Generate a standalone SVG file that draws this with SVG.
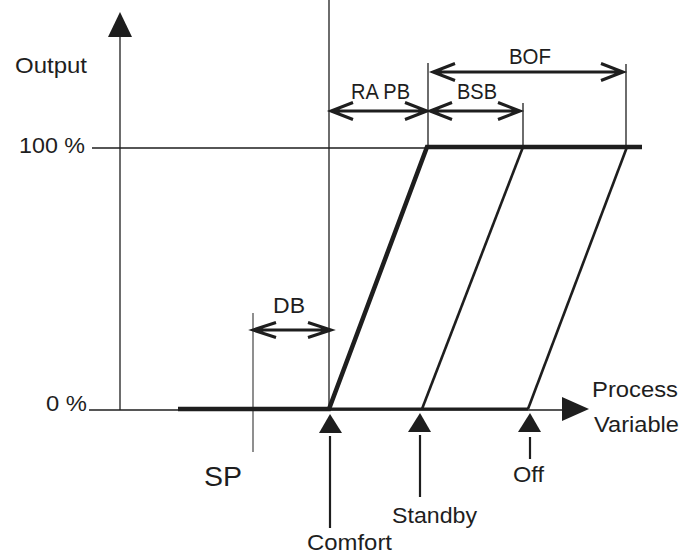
<svg xmlns="http://www.w3.org/2000/svg" width="696" height="554" viewBox="0 0 696 554">
<style>
  text { font-family: "Liberation Sans", Arial, sans-serif; font-size: 22px; fill: #1e1e1e; }
  .thin { stroke: #1e1e1e; stroke-width: 1.3; fill: none; }
  .gray { stroke: #6a6a6a; stroke-width: 1.5; fill: none; }
  .dim { stroke: #1e1e1e; stroke-width: 3; fill: none; stroke-linejoin: miter; }
  .curve { stroke: #1e1e1e; fill: none; stroke-linejoin: miter; }
  .tri { fill: #1e1e1e; }
  .stem { stroke: #1e1e1e; stroke-width: 2.2; }
</style>
<rect width="696" height="554" fill="#ffffff"/>

<g id="axes">
  <line class="thin" x1="120" y1="34" x2="120" y2="410"/>
  <polygon class="tri" points="120,12 108,37 132,37"/>
  <line class="thin" x1="89" y1="410" x2="566" y2="410"/>
  <polygon class="tri" points="589,409 562,397 562,421"/>
  <line class="thin" x1="92" y1="148" x2="428" y2="148"/>
  <text x="15" y="73" textLength="72" lengthAdjust="spacingAndGlyphs">Output</text>
  <text x="19" y="153" textLength="66" lengthAdjust="spacingAndGlyphs">100 %</text>
  <text x="46" y="411" textLength="41" lengthAdjust="spacingAndGlyphs">0 %</text>
  <text x="592" y="397" textLength="86" lengthAdjust="spacingAndGlyphs">Process</text>
  <text x="594" y="432" textLength="85" lengthAdjust="spacingAndGlyphs">Variable</text>
</g>

<g id="guides">
  <line class="thin" x1="329" y1="0" x2="329" y2="409"/>
  <line class="thin" x1="428" y1="63" x2="428" y2="147"/>
  <line class="thin" x1="523" y1="103" x2="523" y2="147"/>
  <line class="thin" x1="626" y1="64" x2="626" y2="147"/>
  <line class="gray" x1="253" y1="313" x2="253" y2="452"/>
</g>

<g id="curves">
  <path class="curve" stroke-width="4.5" d="M178,409 L329,409 L427,147 L642,147"/>
  <line class="curve" stroke-width="3" x1="329" y1="409" x2="528" y2="409"/>
  <line class="curve" stroke-width="2.6" x1="422" y1="409" x2="523" y2="147"/>
  <line class="curve" stroke-width="2.6" x1="528" y1="409" x2="627" y2="147"/>
</g>

<g id="connectors">
  <g id="dim-bof">
    <path class="dim" d="M433,72 L623,72 M455,63.5 L433,72 L455,80.5 M601,63.5 L623,72 L601,80.5"/>
    <text x="509" y="64" textLength="42" lengthAdjust="spacingAndGlyphs">BOF</text>
  </g>
  <g id="dim-rapb">
    <path class="dim" d="M331,111 L427,111 M353,102.5 L331,111 L353,119.5 M405,102.5 L427,111 L405,119.5"/>
    <text x="351" y="99" textLength="59" lengthAdjust="spacingAndGlyphs">RA PB</text>
  </g>
  <g id="dim-bsb">
    <path class="dim" d="M430,111 L520,111 M452,102.5 L430,111 L452,119.5 M498,102.5 L520,111 L498,119.5"/>
    <text x="457" y="99" textLength="40" lengthAdjust="spacingAndGlyphs">BSB</text>
  </g>
  <g id="dim-db">
    <path class="dim" stroke-width="2.2" d="M253,330 L331,330 M276,322.5 L253,330 L276,337.5 M308,322.5 L331,330 L308,337.5"/>
    <text x="273" y="313" textLength="32" lengthAdjust="spacingAndGlyphs">DB</text>
  </g>
</g>

<g id="sp">
  <text x="204" y="486" style="font-size:28px" textLength="38" lengthAdjust="spacingAndGlyphs">SP</text>
</g>

<g id="comfort">
  <polygon class="tri" points="330,414 319,433 342,433"/>
  <line class="stem" x1="330" y1="436" x2="330" y2="528"/>
  <text x="307" y="550" textLength="85" lengthAdjust="spacingAndGlyphs">Comfort</text>
</g>

<g id="standby">
  <polygon class="tri" points="420,413 408,432 431,432"/>
  <line class="stem" x1="420" y1="435" x2="420" y2="497"/>
  <text x="392" y="523" textLength="85" lengthAdjust="spacingAndGlyphs">Standby</text>
</g>

<g id="off">
  <polygon class="tri" points="530,413 518,432 541,432"/>
  <line class="stem" x1="530" y1="437" x2="530" y2="459"/>
  <text x="513" y="482" textLength="31" lengthAdjust="spacingAndGlyphs">Off</text>
</g>
</svg>
